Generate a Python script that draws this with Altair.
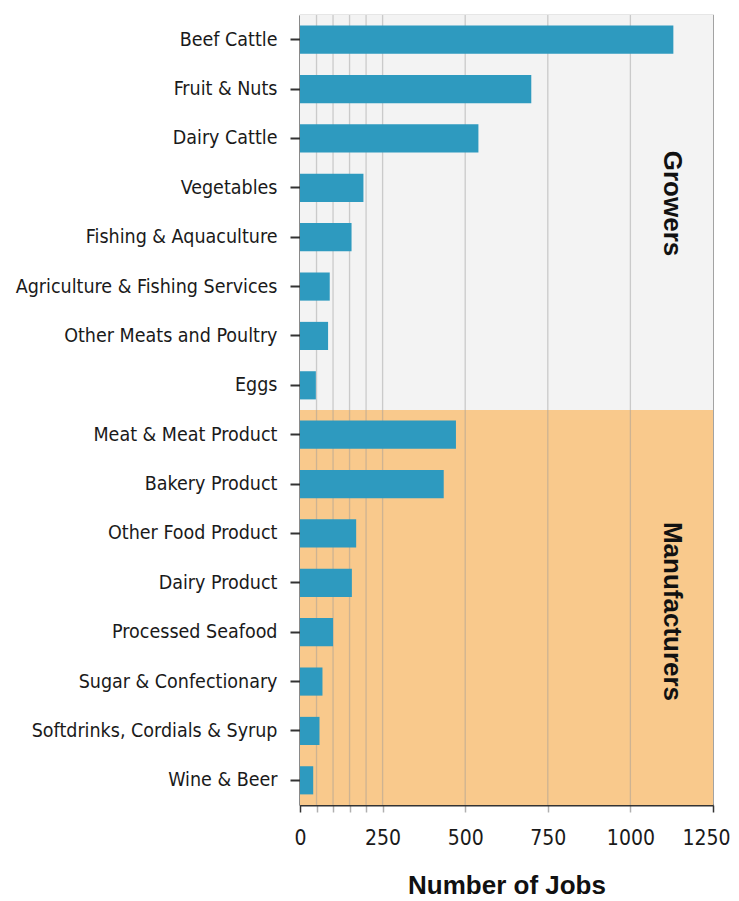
import altair as alt
import pandas as pd

categories = ["Beef Cattle", "Fruit & Nuts", "Dairy Cattle", "Vegetables",
              "Fishing & Aquaculture", "Agriculture & Fishing Services",
              "Other Meats and Poultry", "Eggs", "Meat & Meat Product",
              "Bakery Product", "Other Food Product", "Dairy Product",
              "Processed Seafood", "Sugar & Confectionary",
              "Softdrinks, Cordials & Syrup", "Wine & Beer"]
jobs = [1130, 700, 540, 192, 156, 90, 85, 48, 472, 435, 170, 157, 100, 68, 59, 40]
groups = ["Growers"] * 8 + ["Manufacturers"] * 8
group_names = ["Growers", "Manufacturers"]
group_colors = ["#F3F3F3", "#F9C98C"]
group_label_shift = [-9, 4]
grid_values = [50, 100, 150, 200, 250, 500, 750, 1000]
x_label_values = [0, 250, 500, 750, 1000, 1250]
x_max = 1250

LABEL_FONT = "DejaVu Sans Condensed"
TITLE_FONT = "Liberation Sans"

bars_df = pd.DataFrame({"category": categories, "jobs": jobs, "group": groups})

# group spans (index units) derived from the groups list
grp_rows = []
for g in group_names:
    idx = [i for i, gg in enumerate(groups) if gg == g]
    grp_rows.append({"group": g, "start": min(idx), "end": max(idx) + 1,
                     "mid": (min(idx) + max(idx) + 1) / 2})
grp_df = pd.DataFrame(grp_rows)
grid_df = pd.DataFrame({"v": grid_values})

n = len(categories)
x_scale = alt.Scale(domain=[0, x_max], nice=False, zero=True)
idx_scale = alt.Scale(domain=[0, n], reverse=True, nice=False, zero=False)

bg = alt.Chart(grp_df).mark_rect().encode(
    x=alt.datum(0, scale=x_scale),
    x2=alt.datum(x_max),
    y=alt.Y("start:Q", scale=idx_scale, axis=None),
    y2="end:Q",
    color=alt.Color("group:N", scale=alt.Scale(domain=group_names, range=group_colors), legend=None),
)

text_layers = []
for g, shift in zip(group_names, group_label_shift):
    text_layers.append(
        alt.Chart(grp_df).transform_filter(alt.datum.group == g).mark_text(
            angle=90, font=TITLE_FONT, fontWeight="bold", fontSize=26, color="#111111",
            align="center", baseline="middle", dx=shift
        ).encode(
            x=alt.datum(1125, scale=x_scale),
            y=alt.Y("mid:Q", scale=idx_scale, axis=None),
            text="group:N",
        )
    )

background = alt.layer(bg, *text_layers)

grid = alt.Chart(grid_df).mark_rule(color="#999999", opacity=0.45, strokeWidth=1.3).encode(
    x=alt.X("v:Q", scale=x_scale)
)

bars = alt.Chart(bars_df).mark_bar(color="#2E9ABF").encode(
    x=alt.X("jobs:Q", scale=x_scale,
            axis=alt.Axis(values=[0] + grid_values + [x_max], format="d",
                          labelExpr="indexof([" + ",".join(str(v) for v in x_label_values) + "], datum.value) >= 0 ? datum.label : ''",
                          title="Number of Jobs", grid=False,
                          labelFont=LABEL_FONT, labelFontSize=21, labelColor="#1a1a1a",
                          labelPadding=15, labelFlush=False,
                          labelOffset={"expr": "datum.value == 1250 ? -7 : 0"},
                          tickSize=7, tickWidth=1.5,
                          tickColor={"expr": "datum.value == 0 || datum.value == 1250 ? '#333333' : '#b0b0b0'"},
                          domainColor="#333333", domainWidth=2,
                          titleFont=TITLE_FONT, titleFontSize=26, titleFontWeight="bold",
                          titleColor="#111111", titlePadding=24)),
    y=alt.Y("category:N", sort=categories,
            scale=alt.Scale(paddingInner=0.43, paddingOuter=0.215),
            axis=alt.Axis(title=None, labelFont=LABEL_FONT, labelFontSize=19.5,
                          labelColor="#1a1a1a", labelPadding=13, tickSize=10,
                          tickWidth=2, tickColor="#333333", domainColor="#333333",
                          domainWidth=2, labelLimit=400)),
)

chart = alt.layer(background, grid, bars).resolve_scale(y="independent").properties(
    width=413, height=790,
    autosize=alt.AutoSizeParams(type="none"),
    padding={"left": 292, "top": 7, "right": 18, "bottom": 96},
).configure_view(stroke="#9a9a9a", strokeWidth=1.2)

chart.save("out.html", embed_options={"renderer": "svg", "actions": False})
